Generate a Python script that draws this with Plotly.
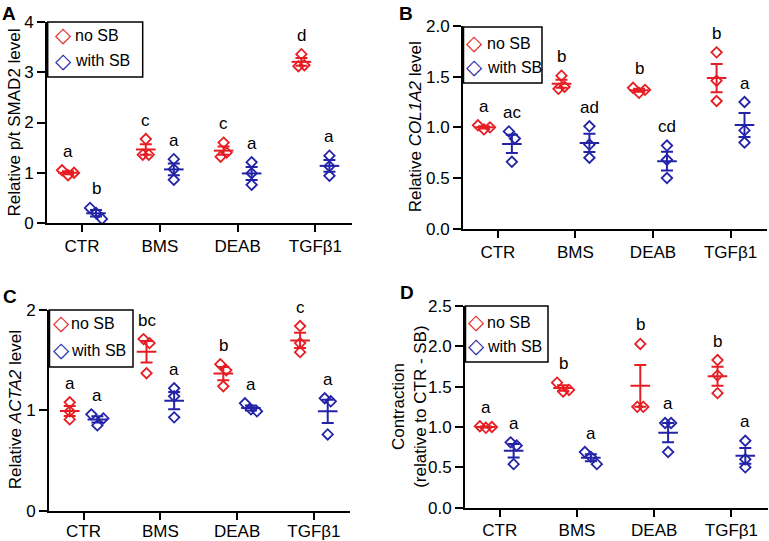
import numpy as np
import plotly.graph_objects as go

W, H = 769, 541
categories = ["CTR", "BMS", "DEAB", "TGFβ1"]
series_names = ["no SB", "with SB"]

# Panel A: Relative p/t SMAD2 level
A_noSB = [[1.05, 0.95, 1.00], [1.67, 1.36, 1.36], [1.60, 1.32, 1.40], [3.36, 3.12, 3.14]]
A_withSB = [[0.30, 0.20, 0.08], [1.27, 0.86, 1.07], [1.21, 0.76, 0.99], [1.34, 0.94, 1.13]]
A_letters_noSB = ["a", "c", "c", "d"]
A_letters_withSB = ["b", "a", "a", "a"]

# Panel B: Relative COL1A2 level
B_noSB = [[1.02, 0.98, 1.00], [1.51, 1.38, 1.40], [1.39, 1.34, 1.37], [1.74, 1.46, 1.26]]
B_withSB = [[0.96, 0.89, 0.66], [1.01, 0.70, 0.83], [0.82, 0.68, 0.50], [1.25, 0.85, 0.97]]
B_letters_noSB = ["a", "b", "b", "b"]
B_letters_withSB = ["ac", "ad", "cd", "a"]

# Panel C: Relative ACTA2 level
C_noSB = [[1.08, 0.91, 0.99], [1.71, 1.67, 1.37], [1.46, 1.40, 1.24], [1.84, 1.67, 1.58]]
C_withSB = [[0.96, 0.85, 0.92], [1.22, 1.14, 0.93], [1.07, 1.01, 0.99], [1.12, 1.09, 0.76]]
C_letters_noSB = ["a", "bc", "b", "c"]
C_letters_withSB = ["a", "a", "a", "a"]

# Panel D: Contraction
D_noSB = [[1.01, 0.99, 1.00], [1.55, 1.44, 1.46], [2.03, 1.25, 1.25], [1.83, 1.64, 1.42]]
D_withSB = [[0.81, 0.77, 0.54], [0.69, 0.63, 0.54], [1.05, 1.05, 0.69], [0.83, 0.60, 0.50]]
D_letters_noSB = ["a", "b", "b", "b"]
D_letters_withSB = ["a", "a", "a", "a"]

RED = "#e61e24"
BLUE = "#2323a8"
FONT = "Liberation Sans, Arial, Helvetica, sans-serif"

def px_x(v):
    return v / W

def px_y(v):
    return 1 - v / H

panels = [
    dict(label="A", data=(A_noSB, A_withSB), letters=(A_letters_noSB, A_letters_withSB),
         xpx=(47, 352), ypx=(22, 223), yrange=[0, 4], dtick=1, fmt="d",
         title="Relative p/t SMAD2 level", title_x=14, lab_xy=(0, 1), xstand=0,
         leg_box=(47.7, 22, 142.7, 77), leg_rows=(35, 61), leg_sym_x=63, leg_txt_x=73),
    dict(label="B", data=(B_noSB, B_withSB), letters=(B_letters_noSB, B_letters_withSB),
         xpx=(463, 767), ypx=(26, 228.7), yrange=[0, 2], dtick=0.5, fmt=".1f",
         title="Relative <i>COL1A2</i> level", title_x=415, lab_xy=(397, 1), xstand=0,
         leg_box=(463.5, 27, 542, 83), leg_rows=(43, 67), leg_sym_x=474, leg_txt_x=485),
    dict(label="C", data=(C_noSB, C_withSB), letters=(C_letters_noSB, C_letters_withSB),
         xpx=(49, 350), ypx=(310, 510.7), yrange=[0, 2], dtick=1, fmt="d",
         title="Relative <i>ACTA2</i> level", title_x=15, lab_xy=(1, 284), xstand=-3,
         leg_box=(49.5, 310, 133, 367), leg_rows=(323, 350), leg_sym_x=61, leg_txt_x=69),
    dict(label="D", data=(D_noSB, D_withSB), letters=(D_letters_noSB, D_letters_withSB),
         xpx=(465, 767.7), ypx=(306, 507.7), yrange=[0, 2.5], dtick=0.5, fmt=".1f",
         title="Contraction<br>(relative to CTR - SB)", title_x=410, lab_xy=(398, 280),
         xstand=-1,
         leg_box=(465.5, 306, 548, 362), leg_rows=(322, 346), leg_sym_x=476, leg_txt_x=485),
]

XRANGE = [-0.45, 3.47]
GROUP_OFF = 0.18
ROW_GAP_PX = 8.0
SPREAD_PX = 6.0

def jitter(vals, ppu_y, ppu_x):
    """Spread points that overlap vertically into a row (pixel based)."""
    vals = list(vals)
    n = len(vals)
    order = sorted(range(n), key=lambda i: -vals[i])
    rows = []
    for i in order:
        if rows and abs(vals[rows[-1][-1]] - vals[i]) * ppu_y < ROW_GAP_PX:
            rows[-1].append(i)
        else:
            rows.append([i])
    offs = [0.0] * n
    for row in rows:
        row_sorted = sorted(row)
        m = len(row_sorted)
        for k, i in enumerate(row_sorted):
            offs[i] = (k - (m - 1) / 2) * SPREAD_PX / ppu_x
    return offs

fig = go.Figure()
layout = dict(
    width=W, height=H, margin=dict(l=0, r=0, t=0, b=0, pad=0, autoexpand=False),
    paper_bgcolor="white", plot_bgcolor="white",
    font=dict(family=FONT, size=17, color="black"),
    annotations=[], shapes=[], showlegend=False,
)

for p_i, p in enumerate(panels):
    suffix = "" if p_i == 0 else str(p_i + 1)
    xa, ya = "x" + suffix, "y" + suffix
    xdom = [px_x(p["xpx"][0]), px_x(p["xpx"][1])]
    ydom = [px_y(p["ypx"][1]), px_y(p["ypx"][0])]
    width_px = p["xpx"][1] - p["xpx"][0]
    height_px = p["ypx"][1] - p["ypx"][0]
    ppu_x = width_px / (XRANGE[1] - XRANGE[0])
    ppu_y = height_px / (p["yrange"][1] - p["yrange"][0])

    layout["xaxis" + suffix] = dict(
        domain=xdom, anchor=ya, range=XRANGE, tickmode="array",
        tickvals=list(range(len(categories))), ticktext=categories,
        showline=True, linecolor="black", linewidth=2, ticks="outside",
        ticklen=7, tickwidth=2, tickcolor="black", showgrid=False, zeroline=False,
        tickfont=dict(size=17), fixedrange=True, automargin=False,
        ticklabelstandoff=p["xstand"],
    )
    layout["yaxis" + suffix] = dict(
        domain=ydom, anchor=xa, range=p["yrange"], dtick=p["dtick"], tick0=0,
        tickformat=p["fmt"], showline=True, linecolor="black", linewidth=2,
        ticks="outside", ticklen=8, tickwidth=2, tickcolor="black",
        showgrid=False, zeroline=False, tickfont=dict(size=17), fixedrange=True,
        automargin=False,
    )

    for s_i, (series, letters) in enumerate(zip(p["data"], p["letters"])):
        color = RED if s_i == 0 else BLUE
        sign = -1 if s_i == 0 else 1
        xs, ys, mx, my, se = [], [], [], [], []
        for c_i, vals in enumerate(series):
            center = c_i + sign * GROUP_OFF
            offs = jitter(vals, ppu_y, ppu_x)
            for v, o in zip(vals, offs):
                xs.append(center + o)
                ys.append(v)
            arr = np.array(vals, dtype=float)
            mx.append(center)
            my.append(arr.mean())
            se.append(arr.std(ddof=1) / np.sqrt(len(arr)))
            layout["annotations"].append(dict(
                x=center, y=max(vals), xref=xa, yref=ya, text=letters[c_i],
                showarrow=False, yanchor="middle", yshift=19,
                font=dict(size=17, color="black"),
            ))
        # mean +/- SEM
        fig.add_trace(go.Scatter(
            x=mx, y=my, xaxis=xa, yaxis=ya, mode="markers", showlegend=False,
            marker=dict(symbol="line-ew", size=14, color=color,
                        line=dict(color=color, width=2)),
            error_y=dict(type="data", array=se, visible=True, color=color,
                         thickness=2, width=6),
            hoverinfo="skip",
        ))
        # individual points
        fig.add_trace(go.Scatter(
            x=xs, y=ys, xaxis=xa, yaxis=ya, mode="markers",
            name=series_names[s_i], showlegend=False,
            marker=dict(symbol="diamond-open", size=8, color=color,
                        line=dict(color=color, width=1.8)),
        ))

        # legend entry (boxed key drawn with text glyphs)
        row_y = px_y(p["leg_rows"][s_i])
        layout["annotations"].append(dict(
            x=px_x(p["leg_sym_x"]), y=row_y, xref="paper", yref="paper",
            text="<b>◇</b>", showarrow=False, xanchor="center", yanchor="middle",
            font=dict(size=21, color=color, family="DejaVu Sans"),
        ))
        layout["annotations"].append(dict(
            x=px_x(p["leg_txt_x"]), y=row_y, xref="paper", yref="paper",
            text=series_names[s_i], showarrow=False, xanchor="left",
            yanchor="middle", font=dict(size=16, color="black"),
        ))

    bx0, by0, bx1, by1 = p["leg_box"]
    layout["shapes"].append(dict(
        type="rect", xref="paper", yref="paper",
        x0=px_x(bx0), x1=px_x(bx1), y0=px_y(by1), y1=px_y(by0),
        line=dict(color="black", width=1.5), fillcolor="white", layer="below",
    ))

    # y-axis title
    layout["annotations"].append(dict(
        x=px_x(p["title_x"]), y=(ydom[0] + ydom[1]) / 2, xref="paper", yref="paper",
        text=p["title"], textangle=-90, showarrow=False, xanchor="center",
        yanchor="middle", font=dict(size=17, color="black"),
    ))
    # panel label
    layout["annotations"].append(dict(
        x=px_x(p["lab_xy"][0]), y=px_y(p["lab_xy"][1]), xref="paper", yref="paper",
        text="<b>%s</b>" % p["label"], showarrow=False, xanchor="left",
        yanchor="top", font=dict(size=19, color="black"),
    ))

fig.update_layout(**layout)
fig.write_html("out.html", config={"displayModeBar": False},
               post_script="document.body.style.margin='0px';")
